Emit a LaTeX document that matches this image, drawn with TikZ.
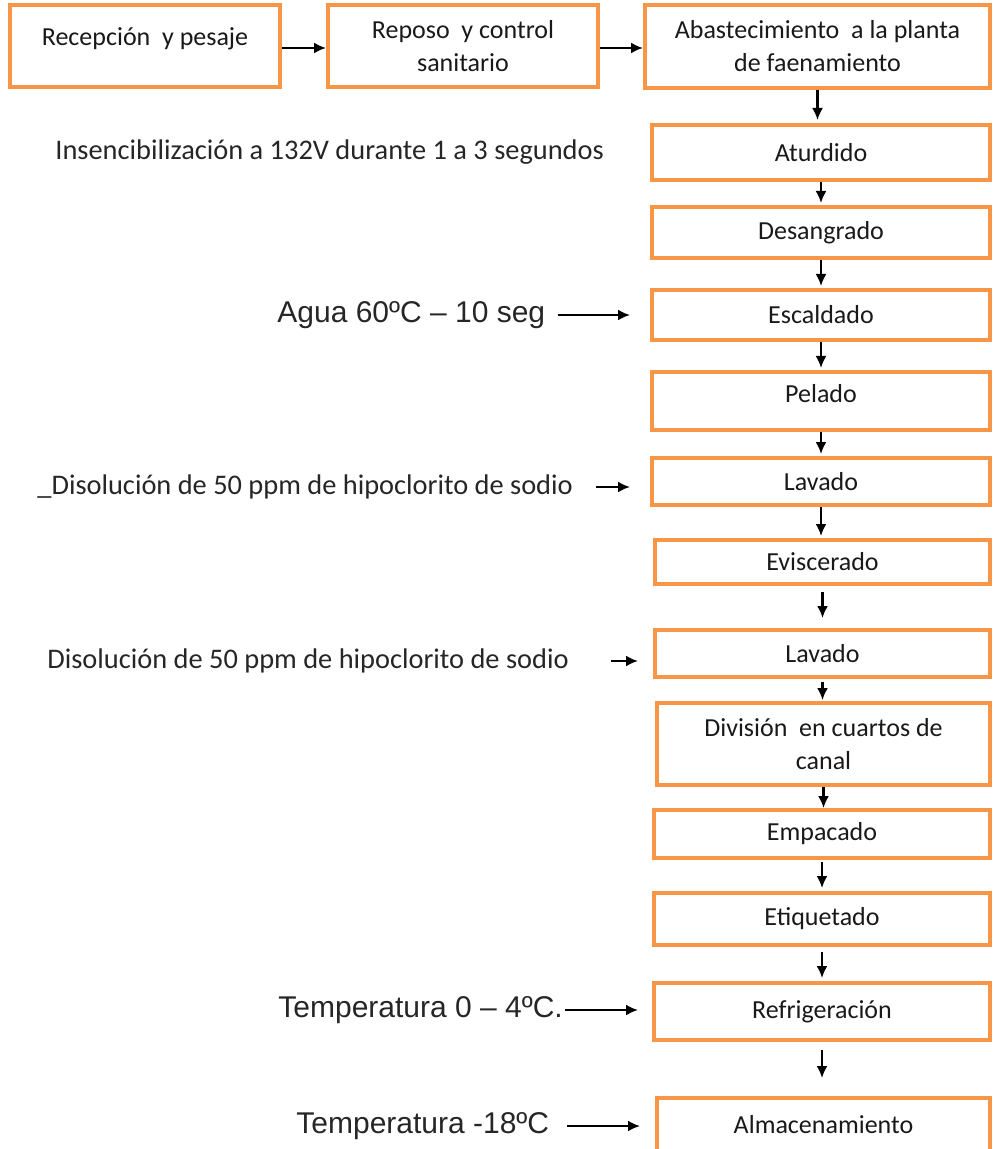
\documentclass[tikz,border=0pt]{standalone}
\usepackage{fontspec}
\setmainfont{Carlito}
\newfontfamily\arialfont{Liberation Sans}
\usetikzlibrary{arrows.meta}
\definecolor{naranja}{HTML}{F79646}
\tikzset{
	every node/.style = {font=\fontsize{13}{16.5}\selectfont},
	paso/.style = {draw=naranja, line width=2pt, inner sep=0pt, align=center, text=black!90},
	nota/.style = {anchor=west, inner sep=0pt, text=black!85, font=\fontsize{14.2}{17}\selectfont},
	notab/.style = {anchor=west, inner sep=0pt, text=black!85, font=\arialfont\fontsize{15}{18}\selectfont},
	flecha/.style = {-{Latex[length=6pt,width=5.5pt]}, line width=1.1pt, black}
}

\begin{document}
\begin{tikzpicture}[x=0.5pt, y=-0.5pt]
		\clip (0,0) rectangle (992,1149);
		% fila de arriba
		\node[paso, minimum width=135pt, minimum height=41pt] (recepcion) at (145,46) {\raisebox{9pt}{Recepción\ \ y pesaje}};
		\node[paso, minimum width=135pt, minimum height=41pt] (reposo) at (463,46) {Reposo\ \ y control\\sanitario};
		\node[paso, minimum width=172.5pt, minimum height=41.5pt] (abastecimiento) at (817.5,46.5) {Abastecimiento\ \ a la planta\\de faenamiento};
		% columna del proceso
		\node[paso, minimum width=169pt, minimum height=27.5pt] (aturdido) at (821,152.5) {Aturdido};
		\node[paso, minimum width=169pt, minimum height=25.5pt] (desangrado) at (821,232.5) {Desangrado};
		\node[paso, minimum width=169pt, minimum height=25pt] (escaldado) at (821,315) {Escaldado};
		\node[paso, minimum width=169pt, minimum height=29pt] (pelado) at (821,401) {\raisebox{8pt}{Pelado}};
		\node[paso, minimum width=169pt, minimum height=23.5pt] (lavadoA) at (821,481.5) {Lavado};
		\node[paso, minimum width=167.5pt, minimum height=22pt] (eviscerado) at (822.5,562) {Eviscerado};
		\node[paso, minimum width=167.5pt, minimum height=23.5pt] (lavadoB) at (822.5,653.5) {Lavado};
		\node[paso, minimum width=166.5pt, minimum height=41pt] (division) at (823.5,744) {División\ \ en cuartos de\\canal};
		\node[paso, minimum width=168pt, minimum height=24pt] (empacado) at (822,834) {Empacado};
		\node[paso, minimum width=168pt, minimum height=26pt] (etiquetado) at (822,919) {Etiquetado};
		\node[paso, minimum width=168pt, minimum height=28.5pt] (refrigeracion) at (822,1011.5) {Refrigeración};
		\node[paso, minimum width=166.5pt, minimum height=27pt] (almacenamiento) at (823.5,1125) {Almacenamiento};
		% textos de la izquierda
		\node[nota] (insen) at (55,152) {Insencibilización a 132V durante 1 a 3 segundos};
		\node[notab] (agua) at (277,315) {Agua 60ºC – 10 seg};
		\node[nota] (hipoA) at (37,487) {\_Disolución de 50 ppm de hipoclorito de sodio};
		\node[nota] (hipoB) at (47,661) {Disolución de 50 ppm de hipoclorito de sodio};
		\node[notab] (tempA) at (278,1010) {Temperatura 0 – 4ºC.};
		\node[notab] (tempB) at (296,1126) {Temperatura -18ºC};

		\draw[flecha] (recepcion.east |- 0,48) -- (reposo.west |- 0,48);
		\draw[flecha] (reposo.east |- 0,48) -- (abastecimiento.west |- 0,48);
		\foreach \a/\b/\s/\t in {abastecimiento/aturdido/0pt/1.5pt, aturdido/desangrado/0pt/1pt,
			desangrado/escaldado/0pt/1pt, escaldado/pelado/0pt/1pt, pelado/lavadoA/0pt/1pt,
			lavadoA/eviscerado/0pt/1pt, eviscerado/lavadoB/3pt/5pt, lavadoB/division/1.5pt/0.5pt,
			division/empacado/0pt/0pt, empacado/etiquetado/1pt/1.5pt, etiquetado/refrigeracion/2.5pt/1.5pt,
			refrigeracion/almacenamiento/4pt/9pt}
			\draw[flecha, shorten <=\s, shorten >=\t] (\a.south) -- (\a.south |- \b.north);
		\foreach \l/\b/\s/\t in {agua/escaldado/6pt/10pt, hipoA/lavadoA/11.5pt/10pt, hipoB/lavadoB/21pt/7.5pt,
			tempA/refrigeracion/1pt/7pt, tempB/almacenamiento/8.5pt/7.5pt}
			\draw[flecha, shorten <=\s, shorten >=\t] (\l.east) -- (\l.east -| \b.west);
\end{tikzpicture}
\end{document}
